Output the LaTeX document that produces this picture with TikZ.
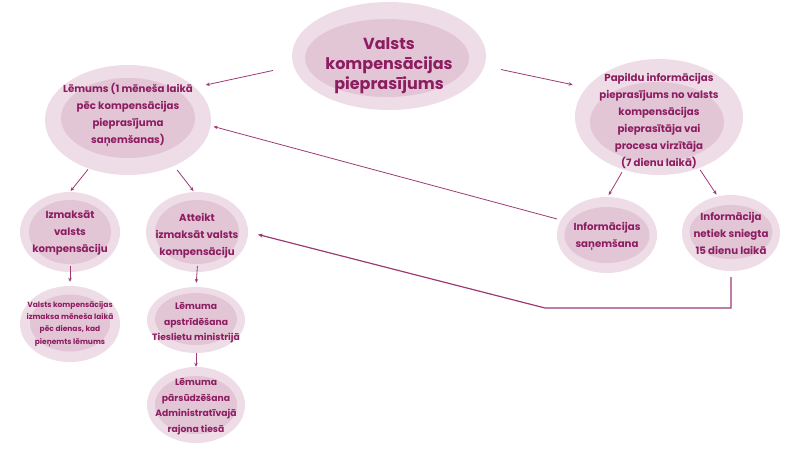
\documentclass[tikz,border=0pt]{standalone}
\usepackage{fontspec}
\setmainfont{Poppins}
\usetikzlibrary{shapes.geometric,arrows.meta,calc}
\definecolor{txtc}{HTML}{8C1D61}
\definecolor{outc}{HTML}{EEDCE6}
\definecolor{inc}{HTML}{E3C6D6}
\definecolor{linec}{HTML}{9C3A74}
\begin{document}
\begin{tikzpicture}[x=1pt,y=-1pt,
  bub/.style={ellipse, fill=outc, inner sep=0pt},
  inl/.style={fill=inc},
  tbig/.style={font=\fontsize{16}{20}\selectfont\bfseries, text=txtc, align=center, inner sep=0pt},
  tmid/.style={font=\fontsize{10.2}{17}\selectfont\bfseries, text=txtc, align=center, inner sep=0pt},
  tlow/.style={font=\fontsize{9.2}{15.5}\selectfont\bfseries, text=txtc, align=center, inner sep=0pt},
  tsmall/.style={font=\fontsize{7.5}{12.3}\selectfont\bfseries, text=txtc, align=center, inner sep=0pt},
  arr/.style={draw=linec, line width=0.8pt, -{Stealth[length=4pt,width=3.5pt]}},
  arrb/.style={draw=linec, line width=1.2pt, -{Stealth[length=5pt,width=4pt]}}]
\useasboundingbox (0,0) rectangle (800,450);
% bubbles
\node[bub, minimum width=194, minimum height=108] (top) at (389,56) {};
\fill[inl] (387,58) ellipse [x radius=82, y radius=39];
\node[bub, minimum width=166, minimum height=110] (lem) at (128,120) {};
\fill[inl] (128,118) ellipse [x radius=67, y radius=40];
\node[bub, minimum width=168, minimum height=116] (pap) at (659,117) {};
\fill[inl] (657,122) ellipse [x radius=67, y radius=40];
\node[bub, minimum width=100, minimum height=80] (izm) at (70,232) {};
\fill[inl] (70,232) ellipse [x radius=41, y radius=32];
\node[bub, minimum width=102, minimum height=80] (att) at (197,232) {};
\fill[inl] (197,232) ellipse [x radius=42, y radius=32];
\node[bub, minimum width=100, minimum height=76] (info) at (607,235) {};
\fill[inl] (607,235) ellipse [x radius=42.5, y radius=28];
\node[bub, minimum width=98, minimum height=76] (net) at (731,233) {};
\fill[inl] (731,232) ellipse [x radius=41.5, y radius=27];
\node[bub, minimum width=100, minimum height=76] (izmx) at (70,324) {};
\fill[inl] (70,323) ellipse [x radius=40, y radius=28.5];
\node[bub, minimum width=98, minimum height=66] (aps) at (196,320) {};
\fill[inl] (196,319) ellipse [x radius=41, y radius=26];
\node[bub, minimum width=98, minimum height=76] (par) at (196,405) {};
\fill[inl] (196,405) ellipse [x radius=41, y radius=29];
% texts
\node[tbig] (topt) at (389,66) {Valsts\\kompensācijas\\pieprasījums};
\node[tmid] (lemt) at (128,115) {Lēmums (1 mēneša laikā\\pēc kompensācijas\\pieprasījuma\\saņemšanas)};
\node[tmid] (papt) at (659,121) {Papildu informācijas\\pieprasījums no valsts\\kompensācijas\\pieprasītāja vai\\procesa virzītāja\\(7 dienu laikā)};
\node[tmid] (izmt) at (70,233) {Izmaksāt\\valsts\\kompensāciju};
\node[tmid] (attt) at (197,236) {Atteikt\\izmaksāt valsts\\kompensāciju};
\node[tmid] (infot) at (607,236) {Informācijas\\saņemšana};
\node[tmid] (nett) at (731,233) {Informācija\\netiek sniegta\\15 dienu laikā};
\node[tsmall] (izmxt) at (70,324) {Valsts kompensācijas\\izmaksa mēneša laikā\\pēc dienas, kad\\pieņemts lēmums};
\node[tlow] (apst) at (196,323) {Lēmuma\\apstrīdēšana\\Tieslietu ministrijā};
\node[tlow] (part) at (196,407) {Lēmuma\\pārsūdzēšana\\Administratīvajā\\rajona tiesā};
% connectors
\draw[arr, shorten <=21pt, shorten >=11pt] (top.186) -- (lem.26);
\draw[arr, shorten <=17pt, shorten >=14pt] (top.354) -- (pap.158);
\draw[arr, shorten <=4pt, shorten >=3pt] (info.162) -- (lem.356);
\draw[arr, shorten <=1pt, shorten >=1pt] (lem.231) -- (izm.90);
\draw[arr, shorten <=5pt, shorten >=1pt] (lem.315) -- (att.94);
\draw[arr, shorten <=3pt, shorten >=2pt] (pap.236) -- (info.89);
\draw[arr, shorten <=2pt, shorten >=2pt] (pap.308) -- (net.110);
\draw[arr, shorten <=-6pt, shorten >=4pt] (izm.south) -- (izmx.north);
\draw[arr, shorten <=-6pt, shorten >=4pt] (att.south) -- (aps.north);
\draw[arr] (aps.south) -- (par.north);
\coordinate (bend) at (545,308);
\draw[arrb, shorten >=10pt] ([yshift=-6pt]net.south) -- (net.south |- bend) -- (bend) -- (att.east);
\end{tikzpicture}
\end{document}
